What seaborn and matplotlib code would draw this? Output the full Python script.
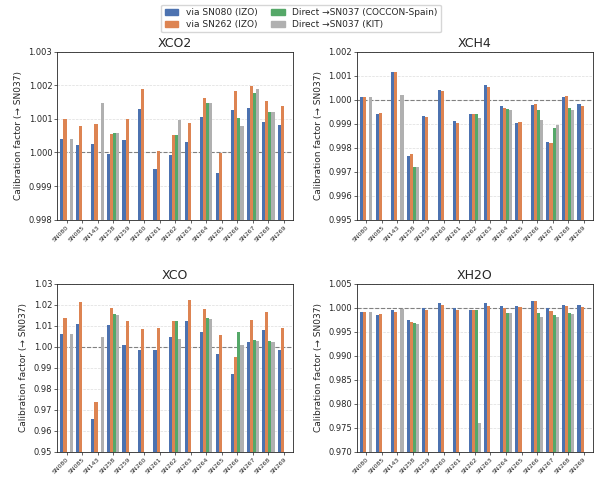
import numpy as np
import pandas as pd
import matplotlib
matplotlib.use('Agg')
import matplotlib.pyplot as plt
import seaborn as sns

nan = np.nan
instruments = ['SN080', 'SN085', 'SN143', 'SN258', 'SN259', 'SN260', 'SN261', 'SN262',
               'SN263', 'SN264', 'SN265', 'SN266', 'SN267', 'SN268', 'SN269']
routes = ['via SN080 (IZO)', 'via SN262 (IZO)', 'Direct →SN037 (COCCON-Spain)', 'Direct →SN037 (KIT)']
colors = ['#4c72b0', '#dd8452', '#55a868', '#b0b0b0']

# rows: instruments; columns: routes
xco2 = [
    [1.00039, 1.00100, nan, 1.00040],
    [1.00021, 1.00080, nan, nan],
    [1.00025, 1.00085, nan, 1.00147],
    [0.99995, 1.00055, 1.00057, 1.00057],
    [1.00038, 1.00098, nan, nan],
    [1.00130, 1.00188, nan, nan],
    [0.99950, 1.00005, nan, nan],
    [0.99993, 1.00051, 1.00051, 1.00095],
    [1.00032, 1.00087, nan, nan],
    [1.00106, 1.00163, 1.00148, 1.00148],
    [0.99940, 0.99999, nan, nan],
    [1.00125, 1.00183, 1.00103, 1.00079],
    [1.00133, 1.00197, 1.00178, 1.00188],
    [1.00090, 1.00152, 1.00120, 1.00120],
    [1.00081, 1.00139, nan, nan],
]
xch4 = [
    [1.00009, 1.00010, nan, 1.00010],
    [0.99941, 0.99943, nan, nan],
    [1.00113, 1.00116, nan, 1.00020],
    [0.99765, 0.99772, 0.99721, 0.99718],
    [0.99933, 0.99926, nan, nan],
    [1.00040, 1.00036, nan, nan],
    [0.99909, 0.99901, nan, nan],
    [0.99938, 0.99938, 0.99938, 0.99923],
    [1.00062, 1.00054, nan, nan],
    [0.99972, 0.99964, 0.99960, 0.99957],
    [0.99903, 0.99907, nan, nan],
    [0.99976, 0.99980, 0.99958, 0.99916],
    [0.99823, 0.99818, 0.99880, 0.99893],
    [1.00011, 1.00015, 0.99963, 0.99957],
    [0.99983, 0.99974, nan, nan],
]
xco = [
    [1.0058, 1.0138, nan, 1.0058],
    [1.0110, 1.0210, nan, nan],
    [0.9657, 0.9738, nan, 1.0048],
    [1.0102, 1.0183, 1.0153, 1.0150],
    [1.0010, 1.0120, nan, nan],
    [0.9982, 1.0083, nan, nan],
    [0.9982, 1.0087, nan, nan],
    [1.0045, 1.0122, 1.0122, 1.0035],
    [1.0122, 1.0222, nan, nan],
    [1.0072, 1.0180, 1.0135, 1.0130],
    [0.9965, 1.0053, nan, nan],
    [0.9870, 0.9953, 1.0072, 1.0010],
    [1.0024, 1.0128, 1.0033, 1.0028],
    [1.0078, 1.0163, 1.0028, 1.0020],
    [0.9982, 1.0087, nan, nan],
]
xh2o = [
    [0.9990, 0.9991, nan, 0.9991],
    [0.9985, 0.9987, nan, nan],
    [0.9994, 0.9991, nan, 0.9998],
    [0.9974, 0.9971, 0.9967, 0.9966],
    [1.0000, 0.9995, nan, nan],
    [1.0009, 1.0005, nan, nan],
    [1.0000, 0.9994, nan, nan],
    [0.9996, 0.9996, 0.9995, 0.9759],
    [1.0009, 1.0004, nan, nan],
    [1.0004, 1.0000, 0.9989, 0.9988],
    [1.0003, 1.0002, nan, nan],
    [1.0013, 1.0013, 0.9989, 0.9981],
    [1.0000, 0.9993, 0.9984, 0.9981],
    [1.0005, 1.0004, 0.9989, 0.9986],
    [1.0006, 1.0002, nan, nan],
]

panels = [
    ('XCO2', xco2, (0.998, 1.003), np.arange(0.998, 1.0031, 0.001), '{:.3f}'),
    ('XCH4', xch4, (0.995, 1.002), np.arange(0.995, 1.0021, 0.001), '{:.3f}'),
    ('XCO', xco, (0.95, 1.03), np.arange(0.95, 1.031, 0.01), '{:.2f}'),
    ('XH2O', xh2o, (0.970, 1.005), np.arange(0.970, 1.0051, 0.005), '{:.3f}'),
]

sns.set_style('ticks')
fig, axes = plt.subplots(2, 2, figsize=(6.02, 4.91), dpi=100)

for ax, (name, vals, ylim, yticks, fmt) in zip(axes.flat, panels):
    rows = []
    for inst, v in zip(instruments, vals):
        for r, val in zip(routes, v):
            rows.append({'inst': inst, 'route': r, 'value': val})
    df = pd.DataFrame(rows)
    ax.axhline(1.0, color='gray', ls='--', lw=0.8, zorder=1)
    for t in yticks:
        ax.axhline(t, color='#dddddd', ls='--', lw=0.5, zorder=0)
    sns.barplot(data=df, x='inst', y='value', hue='route', hue_order=routes,
                palette=colors, width=0.8, ax=ax, legend=False, zorder=2,
                linewidth=0, saturation=1)
    ax.set_ylim(*ylim)
    ax.set_yticks(yticks)
    ax.set_yticklabels([fmt.format(t) for t in yticks], fontsize=6)
    ax.set_xticks(range(len(instruments)))
    ax.set_xticklabels(instruments, rotation=45, ha='right', fontsize=4.5,
                       rotation_mode='anchor')
    ax.set_xlim(-0.6, len(instruments) - 0.4)
    ax.set_xlabel('')
    ax.set_ylabel('Calibration factor (→ SN037)', fontsize=6.5)
    ax.set_title(name, fontsize=9, pad=3)
    ax.tick_params(length=2, width=0.5, pad=1.5)
    for s in ax.spines.values():
        s.set_linewidth(0.6)

handles = [plt.Rectangle((0, 0), 1, 1, color=c) for c in colors]
fig.legend(handles, routes, loc='upper center', ncol=2, fontsize=6.5,
           frameon=True, bbox_to_anchor=(0.5, 1.0), handlelength=1.5,
           columnspacing=1.5, borderpad=0.4, labelspacing=0.3)
fig.subplots_adjust(left=0.095, right=0.985, top=0.895, bottom=0.08,
                    hspace=0.38, wspace=0.27)
fig.savefig('out.png', dpi=100)
